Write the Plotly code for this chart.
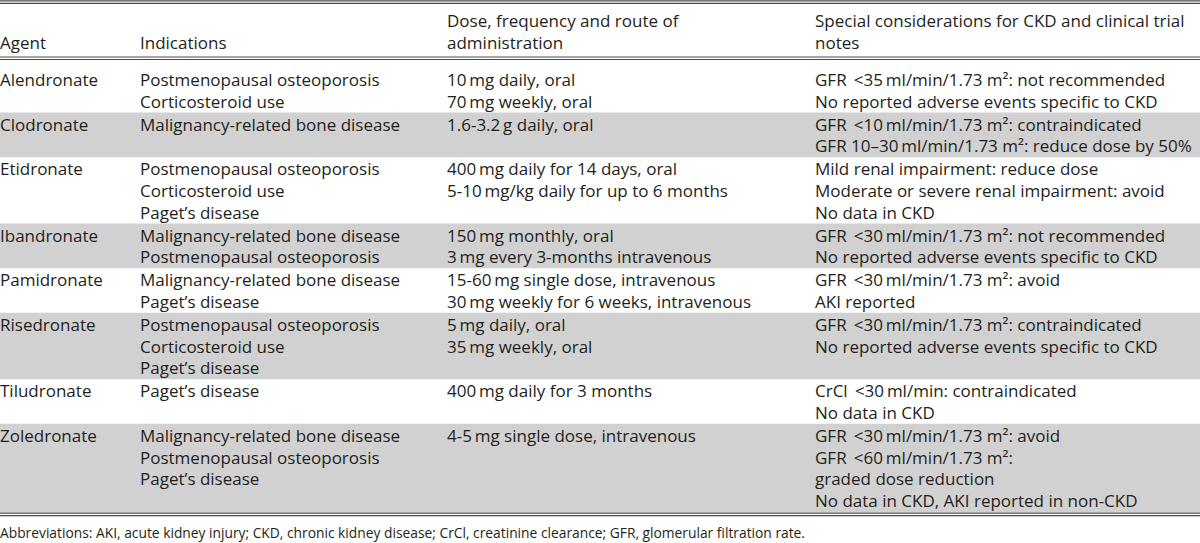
import plotly.graph_objects as go

# ---------------- data ----------------
headers = [
    "Agent",
    "Indications",
    "Dose, frequency and route of<br>administration",
    "Special considerations for CKD and clinical trial<br>notes",
]
agents = ["Alendronate", "Clodronate", "Etidronate", "Ibandronate",
          "Pamidronate", "Risedronate", "Tiludronate", "Zoledronate"]
indications = [
    ["Postmenopausal osteoporosis", "Corticosteroid use"],
    ["Malignancy-related bone disease"],
    ["Postmenopausal osteoporosis", "Corticosteroid use", "Paget\u2019s disease"],
    ["Malignancy-related bone disease", "Postmenopausal osteoporosis"],
    ["Malignancy-related bone disease", "Paget\u2019s disease"],
    ["Postmenopausal osteoporosis", "Corticosteroid use", "Paget\u2019s disease"],
    ["Paget\u2019s disease"],
    ["Malignancy-related bone disease", "Postmenopausal osteoporosis", "Paget\u2019s disease"],
]
doses = [
    ["10\u2009mg daily, oral", "70\u2009mg weekly, oral"],
    ["1.6-3.2\u2009g daily, oral"],
    ["400\u2009mg daily for 14 days, oral", "5-10\u2009mg/kg daily for up to 6 months"],
    ["150\u2009mg monthly, oral", "3\u2009mg every 3-months intravenous"],
    ["15-60\u2009mg single dose, intravenous", "30\u2009mg weekly for 6 weeks, intravenous"],
    ["5\u2009mg daily, oral", "35\u2009mg weekly, oral"],
    ["400\u2009mg daily for 3 months"],
    ["4-5\u2009mg single dose, intravenous"],
]
M2 = "m\u00b2"
LT = " \u2009&lt;"
notes = [
    ["GFR" + LT + "35\u2009ml/min/1.73 " + M2 + ": not recommended",
     "No reported adverse events specific to CKD"],
    ["GFR" + LT + "10\u2009ml/min/1.73 " + M2 + ": contraindicated",
     "GFR 10\u201330\u2009ml/min/1.73 " + M2 + ": reduce dose by 50%"],
    ["Mild renal impairment: reduce dose",
     "Moderate or severe renal impairment: avoid",
     "No data in CKD"],
    ["GFR" + LT + "30\u2009ml/min/1.73 " + M2 + ": not recommended",
     "No reported adverse events specific to CKD"],
    ["GFR" + LT + "30\u2009ml/min/1.73 " + M2 + ": avoid",
     "AKI reported"],
    ["GFR" + LT + "30\u2009ml/min/1.73 " + M2 + ": contraindicated",
     "No reported adverse events specific to CKD"],
    ["CrCl" + LT + "30\u2009ml/min: contraindicated",
     "No data in CKD"],
    ["GFR" + LT + "30\u2009ml/min/1.73 " + M2 + ": avoid",
     "GFR" + LT + "60\u2009ml/min/1.73 " + M2 + ":",
     "graded dose reduction",
     "No data in CKD, AKI reported in non-CKD"],
]
shaded = [False, True, False, True, False, True, False, True]
footnote = ("Abbreviations: AKI, acute kidney injury; CKD, chronic kidney disease; "
            "CrCl, creatinine clearance; GFR, glomerular filtration rate.")

# ---------------- layout constants ----------------
W, H = 1200, 543
col_x = [0, 140, 447, 815]
XSHIFT = -2
LINE = 21.8
FONT = "'Open Sans', 'Noto Sans', sans-serif"
FS = 17
TXT = "#231f20"
RULE = "#4a4a4a"
GREY = "#d1d1d1"

fig = go.Figure()
fig.add_trace(go.Scatter(x=[0, W], y=[0, H], mode="markers",
                         marker=dict(opacity=0), hoverinfo="skip", showlegend=False))

shapes = []
annotations = []

def add_text(x, y, text, size=FS):
    annotations.append(dict(x=x, y=y, xref="x", yref="y", text=text,
                            showarrow=False, xanchor="left", yanchor="middle",
                            align="left", xshift=XSHIFT,
                            font=dict(family=FONT, size=size, color=TXT)))

# header
hdr_y1, hdr_y2 = 20, 42
for cx, h in zip(col_x, headers):
    parts = h.split("<br>")
    if len(parts) == 1:
        add_text(cx, hdr_y2, parts[0])
    else:
        add_text(cx, hdr_y1, parts[0])
        add_text(cx, hdr_y2, parts[1])

# rows
top = 60.0
first_pad = 8.0
for i, agent in enumerate(agents):
    cols = [[agent], indications[i], doses[i], notes[i]]
    n = max(len(c) for c in cols)
    pad = first_pad if i == 0 else 0.0
    h = n * LINE + 1 + pad
    if shaded[i]:
        shapes.append(dict(type="rect", xref="x", yref="y", x0=0, x1=W,
                           y0=top, y1=top + h, fillcolor=GREY, line=dict(width=0),
                           layer="below"))
    for cx, lines in zip(col_x, cols):
        for k, t in enumerate(lines):
            add_text(cx, top + pad + 11.5 + k * LINE, t)
    top += h

bottom = top

def hline(y, w=1.2):
    shapes.append(dict(type="line", xref="x", yref="y", x0=0, x1=W, y0=y, y1=y,
                       line=dict(color=RULE, width=w)))

for y in (0.8, 3.3, 57.0, 59.5, bottom + 1.2, bottom + 3.7):
    hline(y)

add_text(0, 532, footnote, size=13.8)

fig.update_layout(
    width=W, height=H,
    margin=dict(l=0, r=0, t=0, b=0),
    paper_bgcolor="white", plot_bgcolor="white",
    xaxis=dict(range=[0, W], visible=False, fixedrange=True),
    yaxis=dict(range=[H, 0], visible=False, fixedrange=True),
    shapes=shapes, annotations=annotations,
    showlegend=False,
)

fig.write_html("out.html", config={"displayModeBar": False, "responsive": False},
               post_script="document.body.style.margin='0px';document.body.style.overflow='hidden';")
